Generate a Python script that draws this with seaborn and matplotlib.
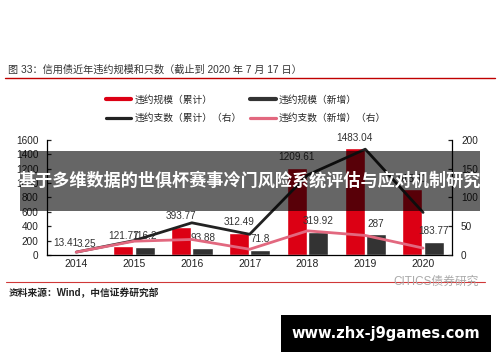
import matplotlib
matplotlib.use('Agg')
import matplotlib.pyplot as plt
import seaborn as sns
import pandas as pd
from matplotlib.lines import Line2D
from matplotlib.patches import Rectangle

# ---------------- data ----------------
years = ['2014', '2015', '2016', '2017', '2018', '2019', '2020']
scale_cum = [13.41, 121.77, 393.77, 312.49, 1209.61, 1483.04, 915.11]   # 违约规模（累计）
scale_new = [3.25, 116.2, 93.88, 71.8, 319.92, 287, 183.77]             # 违约规模（新增）
count_cum = [5, 25, 56, 36, 139, 184, 74]                                # 违约支数（累计）（右）
count_new = [5, 24, 27, 10, 42, 34, 12]                                  # 违约支数（新增）（右）

lab_scale_cum = '违约规模（累计）'
lab_scale_new = '违约规模（新增）'
lab_count_cum = '违约支数（累计）（右）'
lab_count_new = '违约支数（新增）（右）'
title = '图 33：信用债近年违约规模和只数（截止到 2020 年 7 月 17 日）'
source = '资料来源：Wind，中信证券研究部'
banner = '基于多维数据的世俱杯赛事冷门风险系统评估与应对机制研究'
site = 'www.zhx-j9games.com'

RED = '#DC0014'
DARK = '#333333'
BLACK = '#222222'
PINK = '#E2687F'

sns.set_theme(style='white')
plt.rcParams['font.family'] = ['Liberation Sans', 'Noto Sans CJK SC', 'DejaVu Sans']

fig = plt.figure(figsize=(5, 3.62), dpi=100)
ax = fig.add_axes([0.0946, 0.2956, 0.8094, 0.3177])

df = pd.DataFrame({
    'year': years * 2,
    'value': scale_cum + scale_new,
    'series': [lab_scale_cum] * len(years) + [lab_scale_new] * len(years),
})
sns.barplot(data=df, x='year', y='value', hue='series', palette=[RED, DARK],
            width=0.74, gap=0.06, saturation=1, ax=ax, legend=False)
ax.set_ylim(0, 1600)
ax.set_yticks(range(0, 1601, 200))
for c in ax.containers:
    ax.bar_label(c, fmt='%g', padding=4, fontsize=7.2, color='#333333')

ax2 = ax.twinx()
dfl = pd.DataFrame({
    'x': list(range(len(years))) * 2,
    'count': count_cum + count_new,
    'series': [lab_count_cum] * len(years) + [lab_count_new] * len(years),
})
sns.lineplot(data=dfl, x='x', y='count', hue='series', palette=[BLACK, PINK],
             linewidth=2, ax=ax2, legend=False)
ax2.set_ylim(0, 200)
ax2.set_yticks(range(0, 201, 50))
ax.set_xlim(-0.5, 6.5)
ax2.set_xlim(-0.5, 6.5)

for a in (ax, ax2):
    a.set_xlabel('')
    a.set_ylabel('')
    for s in a.spines.values():
        s.set_color('black')
        s.set_linewidth(0.9)
ax.spines['top'].set_visible(False)
ax.spines['right'].set_visible(False)
ax2.spines['top'].set_visible(False)
ax2.spines['left'].set_visible(False)
ax2.spines['bottom'].set_visible(False)

ax.set_xticks(range(len(years)))
ax.set_xticklabels(years)
ax.tick_params(axis='x', length=0, pad=3, labelsize=7.5, colors='#222222')
ax.tick_params(axis='y', direction='in', length=3, width=0.9, pad=6.5,
               labelsize=7.2, colors='#222222', left=True)
ax2.tick_params(axis='y', direction='in', length=3, width=0.9, pad=6.5,
                labelsize=7.2, colors='#222222', right=True)

# legend
handles = [
    Line2D([], [], color=RED, lw=3),
    Line2D([], [], color=BLACK, lw=2.3),
    Line2D([], [], color=DARK, lw=3),
    Line2D([], [], color=PINK, lw=2.3),
]
labels = [lab_scale_cum, lab_count_cum, lab_scale_new, lab_count_new]
fig.legend(handles, labels, ncol=2, loc='center', bbox_to_anchor=(0.492, 0.699),
           frameon=False, fontsize=7, handlelength=2.6, handletextpad=0.3,
           columnspacing=0.9, labelspacing=0.85)

# title and rules
fig.text(0.016, 1 - 70 / 362, title, fontsize=7.3, color='#333333', va='center')
fig.add_artist(Line2D([0.01, 0.99], [1 - 78.3 / 362] * 2, color='#C00000', lw=1,
                      transform=fig.transFigure))
fig.add_artist(Line2D([0.012, 0.97], [1 - 282.3 / 362] * 2, color='#D03838', lw=0.8,
                      transform=fig.transFigure))
fig.text(0.018, 1 - 292.7 / 362, source, fontsize=7, fontweight='bold',
         color='#222222', va='center')
fig.text(0.786, 1 - 282 / 362, 'CITICS债券研究', fontsize=8.5, color='#aaaaaa',
         va='center')

# overlay banner
fig.add_artist(Rectangle((0.04, 0.417), 0.92, 0.1657, facecolor='black', alpha=0.6,
                         edgecolor='none', transform=fig.transFigure, zorder=10))
fig.text(0.5, 0.5, banner, color='white', fontsize=12.3, fontweight='bold',
         ha='center', va='center', zorder=11, family=['Noto Sans CJK SC'])

# site box
fig.add_artist(Rectangle((0.562, 0.0276), 0.42, 0.102, facecolor='black',
                         edgecolor='none', transform=fig.transFigure, zorder=10))
fig.text(0.772, 0.0787, site, color='white', fontsize=10.5, fontweight='bold',
         ha='center', va='center', zorder=11, family=['DejaVu Sans'])

fig.savefig('out.png', dpi=100)
